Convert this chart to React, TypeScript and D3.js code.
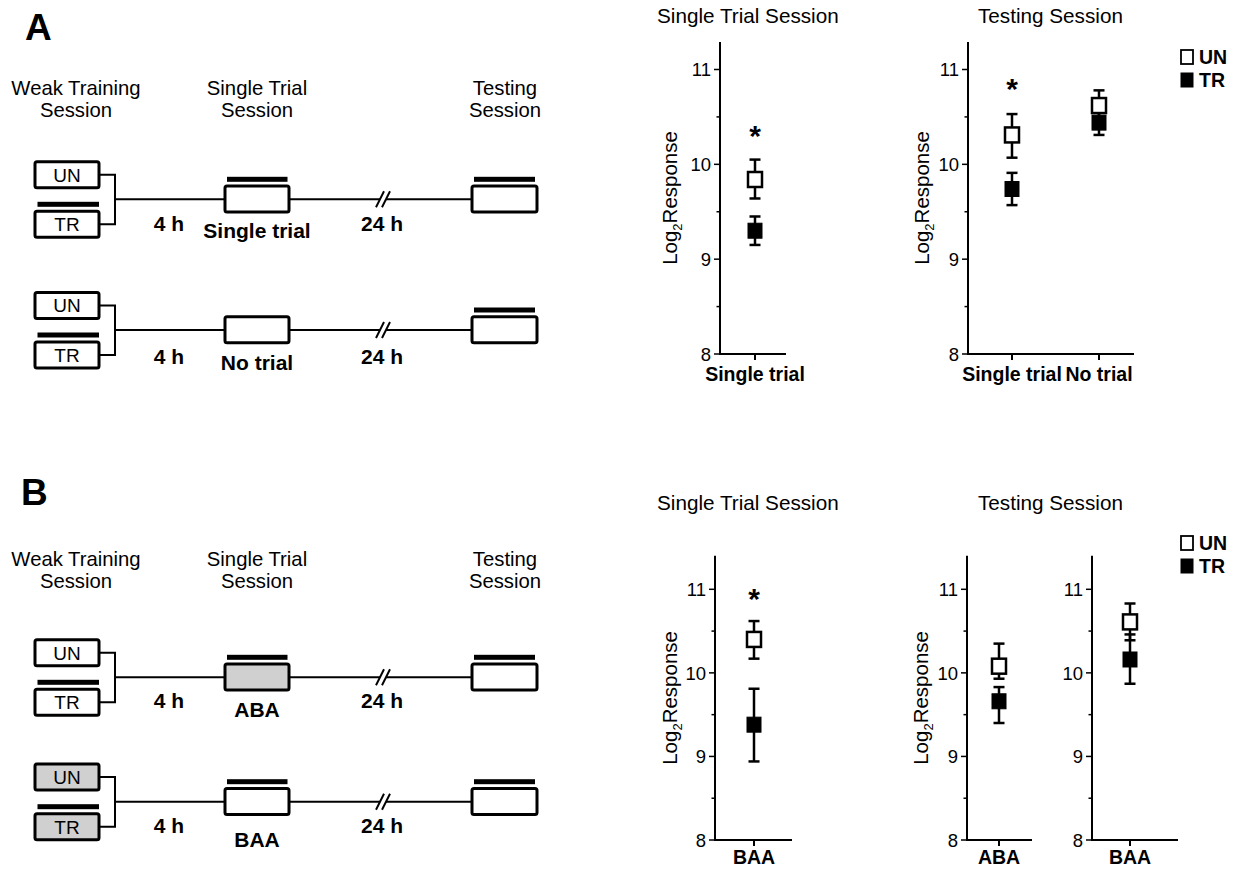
import React from 'react';
import * as d3 from 'd3';

const FONT = "'Liberation Sans', Arial, Helvetica, sans-serif";

// values: [mean, lower error, upper error]
const a1Cats = ['Single trial'];
const a1UN = [[9.84, 9.64, 10.05]];
const a1TR = [[9.3, 9.15, 9.45]];
const a1Stars = [10.37];

const a2Cats = ['Single trial', 'No trial'];
const a2UN = [[10.31, 10.07, 10.53], [10.62, 10.47, 10.78]];
const a2TR = [[9.74, 9.57, 9.91], [10.44, 10.31, 10.58]];
const a2Stars = [10.87, null];

const b1Cats = ['BAA'];
const b1UN = [[10.4, 10.17, 10.62]];
const b1TR = [[9.38, 8.94, 9.81]];
const b1Stars = [10.97];

const b2Cats = ['ABA'];
const b2UN = [[10.08, 9.93, 10.35]];
const b2TR = [[9.66, 9.4, 9.83]];

const b3Cats = ['BAA'];
const b3UN = [[10.61, 10.39, 10.83]];
const b3TR = [[10.16, 9.87, 10.46]];

const majorTicks = [8, 9, 10, 11];
const minorTicks = [8.5, 9.5, 10.5];
const legendItems = ['UN', 'TR'];

const GRAY = '#d0d0d0';

function ErrSquare({ x, y, d, filled }) {
  const [m, lo, hi] = d;
  const cap = 5.5;
  return (
    <g stroke="#000" strokeWidth={2.5}>
      <line x1={x} x2={x} y1={y(lo)} y2={y(hi)} />
      <line x1={x - cap} x2={x + cap} y1={y(lo)} y2={y(lo)} />
      <line x1={x - cap} x2={x + cap} y1={y(hi)} y2={y(hi)} />
      <rect
        x={x - 7}
        y={y(m) - 7.5}
        width={14}
        height={15}
        fill={filled ? '#000' : '#fff'}
        strokeWidth={filled ? 1 : 2.5}
      />
    </g>
  );
}

function DotPanel({ cats, un, tr, stars, axisX, axisEnd, pts, y8, y11, topVal, labelX }) {
  const y = d3.scaleLinear().domain([8, 11]).range([y8, y11]);
  const x = d3.scalePoint().domain(cats).range(pts).padding(0);
  const yMid = (y(topVal) + y(8)) / 2;
  return (
    <g fontFamily={FONT}>
      <line x1={axisX} x2={axisX} y1={y(topVal)} y2={y(8) + 1} stroke="#000" strokeWidth={2} />
      <line x1={axisX} x2={axisEnd} y1={y(8)} y2={y(8)} stroke="#000" strokeWidth={2} />
      {majorTicks.map((t) => (
        <g key={t}>
          <line x1={axisX - 6} x2={axisX} y1={y(t)} y2={y(t)} stroke="#000" strokeWidth={1.5} />
          <text x={axisX - 9} y={y(t)} dy="0.36em" textAnchor="end" fontSize={18.5}>
            {t}
          </text>
        </g>
      ))}
      {minorTicks.map((t) => (
        <line key={t} x1={axisX - 3.5} x2={axisX} y1={y(t)} y2={y(t)} stroke="#000" strokeWidth={1.5} />
      ))}
      {cats.map((c) => (
        <g key={c}>
          <line x1={x(c)} x2={x(c)} y1={y(8)} y2={y(8) + 6} stroke="#000" strokeWidth={2} />
          <text x={x(c)} y={Math.min(y(8) + 27, 864)} textAnchor="middle" fontSize={19.5} fontWeight="bold">
            {c}
          </text>
        </g>
      ))}
      {labelX != null && (
        <text transform={`translate(${labelX},${yMid}) rotate(-90)`} textAnchor="middle" fontSize={20.5}>
          Log
          <tspan fontSize={13} dy={5}>2</tspan>
          <tspan dy={-5}>Response</tspan>
        </text>
      )}
      {cats.map((c, i) => (
        <g key={'e' + c}>
          <ErrSquare x={x(c)} y={y} d={tr[i]} filled />
          <ErrSquare x={x(c)} y={y} d={un[i]} filled={false} />
          {stars && stars[i] != null && (
            <text x={x(c)} y={y(stars[i]) + 17} textAnchor="middle" fontSize={30} fontWeight="bold">
              *
            </text>
          )}
        </g>
      ))}
    </g>
  );
}

function Legend({ x, y }) {
  return (
    <g fontFamily={FONT}>
      {legendItems.map((k, i) => (
        <g key={k} transform={`translate(${x},${y + i * 23})`}>
          <rect
            x={1}
            y={-7}
            width={12}
            height={14}
            fill={k === 'UN' ? '#fff' : '#000'}
            stroke="#000"
            strokeWidth={k === 'UN' ? 1.8 : 1}
          />
          <text x={19} y={0} dy="0.36em" fontSize={19.5} fontWeight="bold">
            {k}
          </text>
        </g>
      ))}
    </g>
  );
}

function Headers({ y }) {
  const cols = [
    { x: 76, lines: ['Weak Training', 'Session'] },
    { x: 257, lines: ['Single Trial', 'Session'] },
    { x: 505, lines: ['Testing', 'Session'] },
  ];
  return (
    <g fontFamily={FONT} fontSize={20.3} textAnchor="middle">
      {cols.map((c) =>
        c.lines.map((l, i) => (
          <text key={c.x + l} x={c.x} y={y + i * 22}>
            {l}
          </text>
        ))
      )}
    </g>
  );
}

function Row({ L, trainFill, midFill, midBar, midLabel, midDy, hDy }) {
  const boxW = 64;
  const boxH = 26;
  return (
    <g fontFamily={FONT}>
      <line x1={115} x2={472} y1={L} y2={L} stroke="#000" strokeWidth={2} />
      <path
        d={`M99,${L - 24.6}H115V${L + 25}H99`}
        fill="none"
        stroke="#000"
        strokeWidth={2}
      />
      {/* axis break */}
      <polygon points={`${376},${L + 8} ${384},${L - 8} ${390},${L - 8} ${382},${L + 8}`} fill="#fff" />
      <line x1={376} y1={L + 8} x2={384} y2={L - 8} stroke="#000" strokeWidth={2} />
      <line x1={382} y1={L + 8} x2={390} y2={L - 8} stroke="#000" strokeWidth={2} />

      <rect x={35} y={L - 37.6} width={boxW} height={boxH} rx={2} fill={trainFill} stroke="#000" strokeWidth={3} />
      <text x={67} y={L - 24.6} dy="0.36em" textAnchor="middle" fontSize={19}>
        UN
      </text>
      <rect x={37.5} y={L + 2.5} width={61.5} height={5} fill="#000" />
      <rect x={35} y={L + 12} width={boxW} height={boxH} rx={2} fill={trainFill} stroke="#000" strokeWidth={3} />
      <text x={67} y={L + 25} dy="0.36em" textAnchor="middle" fontSize={19}>
        TR
      </text>

      <rect x={225} y={L - 13.3} width={boxW} height={boxH} rx={2} fill={midFill} stroke="#000" strokeWidth={3} />
      {midBar && <rect x={227} y={L - 22.5} width={60.5} height={5} fill="#000" />}

      <rect x={472} y={L - 13.3} width={65} height={boxH} rx={2} fill="#fff" stroke="#000" strokeWidth={3} />
      <rect x={474} y={L - 22.5} width={61} height={5} fill="#000" />

      <g fontSize={21} fontWeight="bold" textAnchor="middle">
        <text x={169} y={L + hDy}>4 h</text>
        <text x={257} y={L + midDy}>{midLabel}</text>
        <text x={382} y={L + hDy}>24 h</text>
      </g>
    </g>
  );
}

function Title({ x, y, text }) {
  return (
    <text x={x} y={y} fontFamily={FONT} fontSize={20.7}>
      {text}
    </text>
  );
}

export default function App() {
  return (
    <svg
      width={1236}
      height={869}
      viewBox="0 0 1236 869"
      style={{ position: 'absolute', left: 0, top: 0, background: '#fff' }}
    >
      {/* Panel A */}
      <text x={25} y={40} fontFamily={FONT} fontSize={37} fontWeight="bold">
        A
      </text>
      <Headers y={95} />
      <Row L={199.3} trainFill="#fff" midFill="#fff" midBar midLabel="Single trial" midDy={39} hDy={31.5} />
      <Row L={330} trainFill="#fff" midFill="#fff" midBar={false} midLabel="No trial" midDy={40} hDy={34} />

      <Title x={657} y={23} text="Single Trial Session" />
      <Title x={978} y={23} text="Testing Session" />
      <DotPanel
        cats={a1Cats}
        un={a1UN}
        tr={a1TR}
        stars={a1Stars}
        axisX={720}
        axisEnd={786}
        pts={[755, 755]}
        y8={354}
        y11={69.5}
        topVal={11.29}
        labelX={677}
      />
      <DotPanel
        cats={a2Cats}
        un={a2UN}
        tr={a2TR}
        stars={a2Stars}
        axisX={968}
        axisEnd={1134}
        pts={[1012, 1099]}
        y8={354}
        y11={69.5}
        topVal={11.29}
        labelX={929}
      />
      <Legend x={1180} y={57} />

      {/* Panel B */}
      <text x={21} y={505} fontFamily={FONT} fontSize={37} fontWeight="bold">
        B
      </text>
      <Headers y={566} />
      <Row L={677.3} trainFill="#fff" midFill={GRAY} midBar midLabel="ABA" midDy={39.4} hDy={31} />
      <Row L={801.7} trainFill={GRAY} midFill="#fff" midBar midLabel="BAA" midDy={45.6} hDy={31.6} />

      <Title x={657} y={510} text="Single Trial Session" />
      <Title x={978} y={510} text="Testing Session" />
      <DotPanel
        cats={b1Cats}
        un={b1UN}
        tr={b1TR}
        stars={b1Stars}
        axisX={715}
        axisEnd={792}
        pts={[754, 754]}
        y8={840}
        y11={589.3}
        topVal={11.4}
        labelX={677}
      />
      <DotPanel
        cats={b2Cats}
        un={b2UN}
        tr={b2TR}
        stars={null}
        axisX={967}
        axisEnd={1032}
        pts={[999, 999]}
        y8={840}
        y11={589.3}
        topVal={11.4}
        labelX={928}
      />
      <DotPanel
        cats={b3Cats}
        un={b3UN}
        tr={b3TR}
        stars={null}
        axisX={1092}
        axisEnd={1178}
        pts={[1130, 1130]}
        y8={840}
        y11={589.3}
        topVal={11.4}
        labelX={null}
      />
      <Legend x={1180} y={543} />
    </svg>
  );
}
